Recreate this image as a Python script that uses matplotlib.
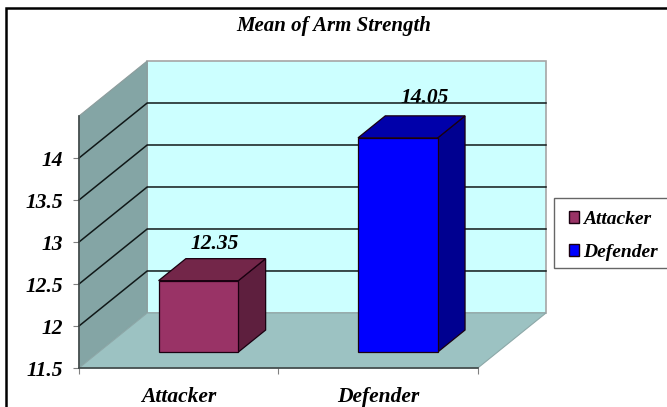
import matplotlib
matplotlib.use('Agg')
import matplotlib.pyplot as plt
from matplotlib.lines import Line2D
from matplotlib.patches import Patch, Rectangle

plt.rcParams['font.family'] = ['Liberation Serif', 'DejaVu Serif']
plt.rcParams['font.weight'] = 'bold'
plt.rcParams['font.style'] = 'italic'

categories = ['Attacker', 'Defender']
values = [12.35, 14.05]
y_ticks = [11.5, 12, 12.5, 13, 13.5, 14]
y_top = 14.5

front_colors = ['#993366', '#0000FF']
top_colors = ['#732649', '#0000AA']
side_colors = ['#5E1F3E', '#000090']

# fake 3D: how far the back wall sits from the front plane, in data units
depth_x = 0.342
depth_y = 0.655
bar_width = 0.4
bar_front = 0.29
bar_back = 0.69

W, H = 667, 407


def proj(x, y, d):
    return (x + d * depth_x, y + d * depth_y)


def face(ax, pts, color, edge='none', lw=0, z=1):
    xy = [proj(*p) for p in pts]
    ax.fill([p[0] for p in xy], [p[1] for p in xy], facecolor=color,
            edgecolor=edge, linewidth=lw, zorder=z, clip_on=False)


fig = plt.figure(figsize=(W / 100, H / 100), dpi=100, facecolor='white')
ax = fig.add_axes([79 / W, (H - 368) / H, (546 - 79) / W, (368 - 61) / H])
ax.set_xlim(0, 2 + depth_x)
ax.set_ylim(y_ticks[0], y_top + depth_y)
ax.patch.set_visible(False)

n = len(categories)
y0 = y_ticks[0]

# walls and floor
face(ax, [(0, y0, 1), (n, y0, 1), (n, y_top, 1), (0, y_top, 1)], '#CCFFFF', '#A6A6A6', 1.2)
face(ax, [(0, y0, 0), (0, y0, 1), (0, y_top, 1), (0, y_top, 0)], '#84A5A5', '#8C9C9C', 0.8)
face(ax, [(0, y0, 0), (n, y0, 0), (n, y0, 1), (0, y0, 1)], '#9CC2C2', '#8CA8A8', 0.8)

# value labels go under the gridlines
label_nudge = [(-11, 10), (0, 13)]
for i, v in enumerate(values):
    px, py = proj(i + 0.5, v, bar_back)
    ax.annotate(f'{v:g}', (px, py), xytext=label_nudge[i], textcoords='offset pixels',
                ha='center', va='baseline', fontsize=15.5, color='black', zorder=2)

for t in y_ticks[1:]:
    x1, y1 = proj(0, t, 1)
    x2, y2 = proj(n, t, 1)
    ax.plot([0, x1, x2], [t, y1, y2], color='#101818', lw=1.1, zorder=3,
            solid_joinstyle='miter', clip_on=False)

# bars
for i, v in enumerate(values):
    x1 = i + 0.5 - bar_width / 2
    x2 = i + 0.5 + bar_width / 2
    d1, d2 = bar_front, bar_back
    face(ax, [(x2, y0, d1), (x2, y0, d2), (x2, v, d2), (x2, v, d1)], side_colors[i], '#1A0010', 0.9, 4)
    face(ax, [(x1, v, d1), (x2, v, d1), (x2, v, d2), (x1, v, d2)], top_colors[i], '#1A0010', 0.9, 4)
    face(ax, [(x1, y0, d1), (x2, y0, d1), (x2, v, d1), (x1, v, d1)], front_colors[i], '#1A0010', 0.9, 5)

# axes
for s in ['top', 'right']:
    ax.spines[s].set_visible(False)
ax.spines['left'].set_bounds(y0, y_top)
ax.spines['bottom'].set_bounds(0, n)
for s in ['left', 'bottom']:
    ax.spines[s].set_color('#404848')
    ax.spines[s].set_linewidth(1.2)
    ax.spines[s].set_zorder(6)

ax.set_yticks(y_ticks)
ax.set_yticklabels([f'{t:g}' for t in y_ticks], fontsize=15.5)
ax.tick_params(axis='y', length=4.5, width=0.8, color='#808080', pad=7)

ax.set_xticks(list(range(n + 1)))
ax.set_xticklabels([])
ax.set_xticks([i + 0.5 for i in range(n)], minor=True)
ax.set_xticklabels(categories, minor=True, fontsize=15.5)
ax.tick_params(axis='x', which='major', length=4.5, width=0.8, color='#808080')
ax.tick_params(axis='x', which='minor', length=0, pad=13.5)

fig.text(333.5 / W, (H - 26) / H, 'Mean of Arm Strength', ha='center', va='center', fontsize=15)

# legend box runs off the right edge, so its frame is drawn separately
fig.add_artist(Rectangle((554 / W, (H - 268) / H), 120 / W, 70 / H, transform=fig.transFigure,
                         facecolor='white', edgecolor='#666666', linewidth=1.0, zorder=1))
handles = [Patch(facecolor=c, edgecolor='#1A0010', linewidth=1) for c in front_colors]
leg = fig.legend(handles, categories, loc='upper left', bbox_to_anchor=(569 / W, (H - 210.5) / H),
                 fontsize=14, frameon=False, borderpad=0, labelspacing=0.86, handlelength=0.52,
                 handleheight=0.57, handletextpad=0.2, borderaxespad=0)
leg.set_zorder(2)

# the outer frame only shows along the top and left
fig.add_artist(Line2D([6 / W, 6 / W, 1], [0, (H - 8) / H, (H - 8) / H], color='black', lw=1.8,
                      solid_joinstyle='miter'))

fig.savefig('out.png', dpi=100)
